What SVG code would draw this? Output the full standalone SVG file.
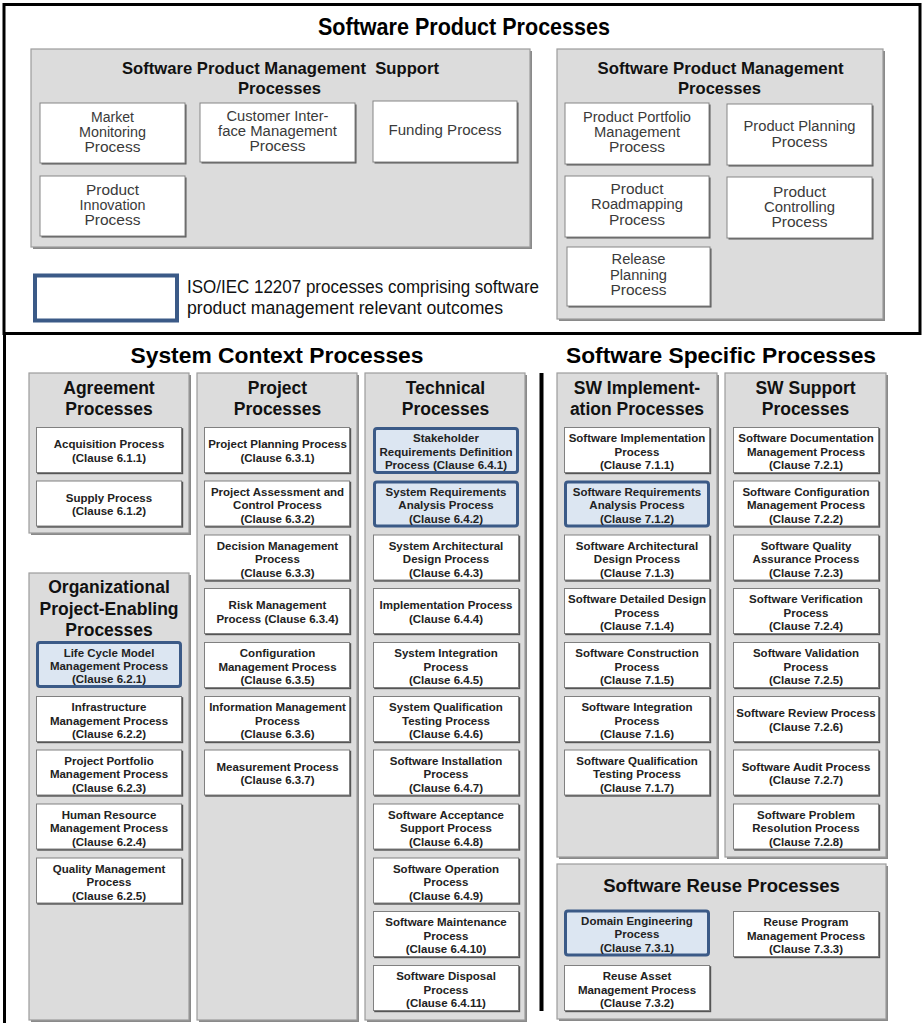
<svg xmlns="http://www.w3.org/2000/svg" xmlns:xlink="http://www.w3.org/1999/xlink" width="924" height="1023" viewBox="0 0 924 1023">
<style>
.t{font-family:"Liberation Sans",Arial,Helvetica,sans-serif;font-weight:bold;font-size:11.5px;fill:#222;text-anchor:middle}
.h{font-family:"Liberation Sans",Arial,Helvetica,sans-serif;font-weight:bold;font-size:17.5px;fill:#111;text-anchor:middle}
.H{font-family:"Liberation Sans",Arial,Helvetica,sans-serif;font-weight:bold;font-size:22.5px;fill:#000;text-anchor:middle}
.n{font-family:"Liberation Sans Narrow","Liberation Sans",Arial,sans-serif;font-size:14px;fill:#3a3a3a;text-anchor:middle}
.nh{font-family:"Liberation Sans Narrow","Liberation Sans",Arial,sans-serif;font-weight:bold;font-size:17px;fill:#111;text-anchor:middle}
.nt{font-family:"Liberation Sans Narrow","Liberation Sans",Arial,sans-serif;font-weight:bold;font-size:24px;fill:#000;text-anchor:middle}
.lg{font-family:"Liberation Sans Narrow","Liberation Sans",Arial,sans-serif;font-size:17.5px;fill:#111}
.ct{fill:#dcdcdc;stroke:#9c9c9c;stroke-width:1.2}
.cs{fill:#8a8a8a}
.wb{fill:#fff;stroke:#858585;stroke-width:1}
.ws{fill:#555}
</style>
<defs>
<g id="wb"><rect x="1.2" y="1.2" width="146" height="46" fill="#555"/><rect x="0.5" y="0.5" width="145" height="45" fill="#fff" stroke="#808080"/></g>
<g id="bb"><rect x="1.5" y="1.5" width="143" height="44" rx="2.5" fill="#dce6f2" stroke="#3b5a87" stroke-width="3"/></g>
</defs>

<!-- top section -->
<g id="software-product-processes">
<rect x="4" y="4.5" width="916" height="329" fill="#fff" stroke="#000" stroke-width="3"/>
<text class="nt" x="464" y="35" textLength="292" lengthAdjust="spacingAndGlyphs">Software Product Processes</text>
</g>

<g id="spm-support">
<rect class="cs" x="33" y="51" width="499" height="198"/>
<rect class="ct" x="31" y="49" width="499" height="198"/>
<text class="nh" x="280.5" y="74" textLength="317" lengthAdjust="spacingAndGlyphs" xml:space="preserve">Software Product Management  Support</text>
<text class="nh" x="279.5" y="94" textLength="83" lengthAdjust="spacingAndGlyphs">Processes</text>
</g>
<g id="n-market">
<rect class="ws" x="41.5" y="104.5" width="145" height="60"/><rect class="wb" x="40" y="103" width="145" height="60"/>
<text class="n" x="112.5" y="122" textLength="43" lengthAdjust="spacingAndGlyphs">Market</text>
<text class="n" x="112.5" y="137" textLength="67" lengthAdjust="spacingAndGlyphs">Monitoring</text>
<text class="n" x="112.5" y="152" textLength="56" lengthAdjust="spacingAndGlyphs">Process</text>
</g>
<g id="n-customer">
<rect class="ws" x="201.5" y="104.5" width="155" height="59"/><rect class="wb" x="200" y="103" width="155" height="59"/>
<text class="n" x="277.5" y="121" textLength="102" lengthAdjust="spacingAndGlyphs">Customer Inter-</text>
<text class="n" x="277.5" y="136" textLength="119" lengthAdjust="spacingAndGlyphs">face Management</text>
<text class="n" x="277.5" y="151" textLength="56" lengthAdjust="spacingAndGlyphs">Process</text>
</g>
<g id="n-funding">
<rect class="ws" x="374.5" y="102.5" width="144" height="61"/><rect class="wb" x="373" y="101" width="144" height="61"/>
<text class="n" x="445" y="135" textLength="113" lengthAdjust="spacingAndGlyphs">Funding Process</text>
</g>
<g id="n-innovation">
<rect class="ws" x="41.5" y="177.5" width="145" height="60"/><rect class="wb" x="40" y="176" width="145" height="60"/>
<text class="n" x="112.5" y="195" textLength="53" lengthAdjust="spacingAndGlyphs">Product</text>
<text class="n" x="112.5" y="210" textLength="66" lengthAdjust="spacingAndGlyphs">Innovation</text>
<text class="n" x="112.5" y="224.5" textLength="56" lengthAdjust="spacingAndGlyphs">Process</text>
</g>

<g id="spm">
<rect class="cs" x="559" y="51" width="326" height="270"/>
<rect class="ct" x="557" y="49" width="326" height="270"/>
<text class="nh" x="720.5" y="74" textLength="246" lengthAdjust="spacingAndGlyphs">Software Product Management</text>
<text class="nh" x="719.5" y="94" textLength="83" lengthAdjust="spacingAndGlyphs">Processes</text>
</g>
<g id="n-portfolio">
<rect class="ws" x="566.5" y="104.5" width="144" height="61"/><rect class="wb" x="565" y="103" width="144" height="61"/>
<text class="n" x="637" y="122" textLength="108" lengthAdjust="spacingAndGlyphs">Product Portfolio</text>
<text class="n" x="637" y="137" textLength="86" lengthAdjust="spacingAndGlyphs">Management</text>
<text class="n" x="637" y="152" textLength="56" lengthAdjust="spacingAndGlyphs">Process</text>
</g>
<g id="n-planning">
<rect class="ws" x="728.5" y="105.5" width="145" height="61"/><rect class="wb" x="727" y="104" width="145" height="61"/>
<text class="n" x="799.5" y="131" textLength="112" lengthAdjust="spacingAndGlyphs">Product Planning</text>
<text class="n" x="799.5" y="147" textLength="56" lengthAdjust="spacingAndGlyphs">Process</text>
</g>
<g id="n-roadmapping">
<rect class="ws" x="566.5" y="177.5" width="144" height="61"/><rect class="wb" x="565" y="176" width="144" height="61"/>
<text class="n" x="637" y="194" textLength="53" lengthAdjust="spacingAndGlyphs">Product</text>
<text class="n" x="637" y="209" textLength="92" lengthAdjust="spacingAndGlyphs">Roadmapping</text>
<text class="n" x="637" y="225" textLength="56" lengthAdjust="spacingAndGlyphs">Process</text>
</g>
<g id="n-controlling">
<rect class="ws" x="728.5" y="178.5" width="145" height="61"/><rect class="wb" x="727" y="177" width="145" height="61"/>
<text class="n" x="799.5" y="197" textLength="53" lengthAdjust="spacingAndGlyphs">Product</text>
<text class="n" x="799.5" y="212" textLength="71" lengthAdjust="spacingAndGlyphs">Controlling</text>
<text class="n" x="799.5" y="227" textLength="56" lengthAdjust="spacingAndGlyphs">Process</text>
</g>
<g id="n-release">
<rect class="ws" x="568.5" y="248.5" width="143" height="59"/><rect class="wb" x="567" y="247" width="143" height="59"/>
<text class="n" x="638.5" y="264" textLength="54" lengthAdjust="spacingAndGlyphs">Release</text>
<text class="n" x="638.5" y="279.5" textLength="57" lengthAdjust="spacingAndGlyphs">Planning</text>
<text class="n" x="638.5" y="294.5" textLength="56" lengthAdjust="spacingAndGlyphs">Process</text>
</g>

<g id="legend">
<rect x="35" y="275.5" width="142" height="45" fill="#fff" stroke="#3b5a87" stroke-width="4"/>
<text class="lg" x="187" y="293" textLength="352" lengthAdjust="spacingAndGlyphs">ISO/IEC 12207 processes comprising software</text>
<text class="lg" x="187" y="314" textLength="316" lengthAdjust="spacingAndGlyphs">product management relevant outcomes</text>
</g>

<!-- bottom section -->
<g id="connectors">
<line x1="4.5" y1="333" x2="4.5" y2="1023" stroke="#000" stroke-width="3"/>
<line x1="541.5" y1="373" x2="541.5" y2="1011" stroke="#000" stroke-width="4"/>
</g>

<g id="titles">
<text class="H" x="277" y="363" textLength="293" lengthAdjust="spacingAndGlyphs">System Context Processes</text>
<text class="H" x="721" y="363" textLength="310" lengthAdjust="spacingAndGlyphs">Software Specific Processes</text>
</g>

<g id="agreement">
<rect class="cs" x="31" y="375" width="160" height="160"/>
<rect class="ct" x="29" y="373" width="160" height="160"/>
<text class="h" x="109" y="393.5">Agreement</text>
<text class="h" x="109" y="414.5">Processes</text>
</g>
<g id="organizational">
<rect class="cs" x="31" y="575" width="160" height="447"/>
<rect class="ct" x="29" y="573" width="160" height="447"/>
<text class="h" x="109" y="593">Organizational</text>
<text class="h" x="109" y="614.5">Project-Enabling</text>
<text class="h" x="109" y="636">Processes</text>
</g>
<g id="project">
<rect class="cs" x="199" y="375" width="160" height="647"/>
<rect class="ct" x="197" y="373" width="160" height="647"/>
<text class="h" x="277.5" y="393.5">Project</text>
<text class="h" x="277.5" y="414.5">Processes</text>
</g>
<g id="technical">
<rect class="cs" x="367" y="375" width="160" height="647"/>
<rect class="ct" x="365" y="373" width="160" height="647"/>
<text class="h" x="445.5" y="393.5">Technical</text>
<text class="h" x="445.5" y="414.5">Processes</text>
</g>
<g id="sw-implementation">
<rect class="cs" x="559" y="375" width="160" height="484"/>
<rect class="ct" x="557" y="373" width="160" height="484"/>
<text class="h" x="637" y="393.5">SW Implement-</text>
<text class="h" x="637" y="414.5">ation Processes</text>
</g>
<g id="sw-support">
<rect class="cs" x="727" y="375" width="161" height="484"/>
<rect class="ct" x="725" y="373" width="161" height="484"/>
<text class="h" x="805.5" y="393.5">SW Support</text>
<text class="h" x="805.5" y="414.5">Processes</text>
</g>
<g id="sw-reuse">
<rect class="cs" x="559" y="866" width="329" height="155"/>
<rect class="ct" x="557" y="864" width="329" height="155"/>
<text class="h" x="721.5" y="892" style="font-size:18.5px">Software Reuse Processes</text>
</g>

<!-- Agreement -->
<g id="n-6-1-1" transform="translate(36,427)"><use href="#wb"/><text class="t"><tspan x="73" y="21">Acquisition Process</tspan><tspan x="73" y="34.5">(Clause 6.1.1)</tspan></text></g>
<g id="n-6-1-2" transform="translate(36,480.5)"><use href="#wb"/><text class="t"><tspan x="73" y="21">Supply Process</tspan><tspan x="73" y="34.5">(Clause 6.1.2)</tspan></text></g>

<!-- Organizational -->
<g id="n-6-2-1" transform="translate(36,641)"><use href="#bb"/><text class="t"><tspan x="73" y="15.5">Life Cycle Model</tspan><tspan x="73" y="28.5">Management Process</tspan><tspan x="73" y="42">(Clause 6.2.1)</tspan></text></g>
<g id="n-6-2-2" transform="translate(36,696)"><use href="#wb"/><text class="t"><tspan x="73" y="15">Infrastructure</tspan><tspan x="73" y="28.5">Management Process</tspan><tspan x="73" y="42">(Clause 6.2.2)</tspan></text></g>
<g id="n-6-2-3" transform="translate(36,749.5)"><use href="#wb"/><text class="t"><tspan x="73" y="15">Project Portfolio</tspan><tspan x="73" y="28.5">Management Process</tspan><tspan x="73" y="42">(Clause 6.2.3)</tspan></text></g>
<g id="n-6-2-4" transform="translate(36,803.5)"><use href="#wb"/><text class="t"><tspan x="73" y="15">Human Resource</tspan><tspan x="73" y="28.5">Management Process</tspan><tspan x="73" y="42">(Clause 6.2.4)</tspan></text></g>
<g id="n-6-2-5" transform="translate(36,857.5)"><use href="#wb"/><text class="t"><tspan x="73" y="15">Quality Management</tspan><tspan x="73" y="28.5">Process</tspan><tspan x="73" y="42">(Clause 6.2.5)</tspan></text></g>

<!-- Project -->
<g id="n-6-3-1" transform="translate(204,427)"><use href="#wb"/><text class="t"><tspan x="73.5" y="21">Project Planning Process</tspan><tspan x="73.5" y="34.5">(Clause 6.3.1)</tspan></text></g>
<g id="n-6-3-2" transform="translate(204,480.5)"><use href="#wb"/><text class="t"><tspan x="73.5" y="15">Project Assessment and</tspan><tspan x="73.5" y="28.5">Control Process</tspan><tspan x="73.5" y="42">(Clause 6.3.2)</tspan></text></g>
<g id="n-6-3-3" transform="translate(204,534.5)"><use href="#wb"/><text class="t"><tspan x="73.5" y="15">Decision Management</tspan><tspan x="73.5" y="28.5">Process</tspan><tspan x="73.5" y="42">(Clause 6.3.3)</tspan></text></g>
<g id="n-6-3-4" transform="translate(204,588)"><use href="#wb"/><text class="t"><tspan x="73.5" y="21">Risk Management</tspan><tspan x="73.5" y="34.5">Process (Clause 6.3.4)</tspan></text></g>
<g id="n-6-3-5" transform="translate(204,642)"><use href="#wb"/><text class="t"><tspan x="73.5" y="15">Configuration</tspan><tspan x="73.5" y="28.5">Management Process</tspan><tspan x="73.5" y="42">(Clause 6.3.5)</tspan></text></g>
<g id="n-6-3-6" transform="translate(204,696)"><use href="#wb"/><text class="t"><tspan x="73.5" y="15">Information Management</tspan><tspan x="73.5" y="28.5">Process</tspan><tspan x="73.5" y="42">(Clause 6.3.6)</tspan></text></g>
<g id="n-6-3-7" transform="translate(204,749.5)"><use href="#wb"/><text class="t"><tspan x="73.5" y="21">Measurement Process</tspan><tspan x="73.5" y="34.5">(Clause 6.3.7)</tspan></text></g>

<!-- Technical -->
<g id="n-6-4-1" transform="translate(373,427)"><use href="#bb"/><text class="t"><tspan x="73" y="15">Stakeholder</tspan><tspan x="73" y="28.5">Requirements Definition</tspan><tspan x="73" y="42">Process (Clause 6.4.1)</tspan></text></g>
<g id="n-6-4-2" transform="translate(373,480.5)"><use href="#bb"/><text class="t"><tspan x="73" y="15">System Requirements</tspan><tspan x="73" y="28.5">Analysis Process</tspan><tspan x="73" y="42">(Clause 6.4.2)</tspan></text></g>
<g id="n-6-4-3" transform="translate(373,534.5)"><use href="#wb"/><text class="t"><tspan x="73" y="15">System Architectural</tspan><tspan x="73" y="28.5">Design Process</tspan><tspan x="73" y="42">(Clause 6.4.3)</tspan></text></g>
<g id="n-6-4-4" transform="translate(373,588)"><use href="#wb"/><text class="t"><tspan x="73" y="21">Implementation Process</tspan><tspan x="73" y="34.5">(Clause 6.4.4)</tspan></text></g>
<g id="n-6-4-5" transform="translate(373,642)"><use href="#wb"/><text class="t"><tspan x="73" y="15">System Integration</tspan><tspan x="73" y="28.5">Process</tspan><tspan x="73" y="42">(Clause 6.4.5)</tspan></text></g>
<g id="n-6-4-6" transform="translate(373,696)"><use href="#wb"/><text class="t"><tspan x="73" y="15">System Qualification</tspan><tspan x="73" y="28.5">Testing Process</tspan><tspan x="73" y="42">(Clause 6.4.6)</tspan></text></g>
<g id="n-6-4-7" transform="translate(373,749.5)"><use href="#wb"/><text class="t"><tspan x="73" y="15">Software Installation</tspan><tspan x="73" y="28.5">Process</tspan><tspan x="73" y="42">(Clause 6.4.7)</tspan></text></g>
<g id="n-6-4-8" transform="translate(373,803.5)"><use href="#wb"/><text class="t"><tspan x="73" y="15">Software Acceptance</tspan><tspan x="73" y="28.5">Support Process</tspan><tspan x="73" y="42">(Clause 6.4.8)</tspan></text></g>
<g id="n-6-4-9" transform="translate(373,857.5)"><use href="#wb"/><text class="t"><tspan x="73" y="15">Software Operation</tspan><tspan x="73" y="28.5">Process</tspan><tspan x="73" y="42">(Clause 6.4.9)</tspan></text></g>
<g id="n-6-4-10" transform="translate(373,911)"><use href="#wb"/><text class="t"><tspan x="73" y="15">Software Maintenance</tspan><tspan x="73" y="28.5">Process</tspan><tspan x="73" y="42">(Clause 6.4.10)</tspan></text></g>
<g id="n-6-4-11" transform="translate(373,965)"><use href="#wb"/><text class="t"><tspan x="73" y="15">Software Disposal</tspan><tspan x="73" y="28.5">Process</tspan><tspan x="73" y="42">(Clause 6.4.11)</tspan></text></g>

<!-- SW Implementation -->
<g id="n-7-1-1" transform="translate(564,427)"><use href="#wb"/><text class="t"><tspan x="73" y="15">Software Implementation</tspan><tspan x="73" y="28.5">Process</tspan><tspan x="73" y="42">(Clause 7.1.1)</tspan></text></g>
<g id="n-7-1-2" transform="translate(564,480.5)"><use href="#bb"/><text class="t"><tspan x="73" y="15">Software Requirements</tspan><tspan x="73" y="28.5">Analysis Process</tspan><tspan x="73" y="42">(Clause 7.1.2)</tspan></text></g>
<g id="n-7-1-3" transform="translate(564,534.5)"><use href="#wb"/><text class="t"><tspan x="73" y="15">Software Architectural</tspan><tspan x="73" y="28.5">Design Process</tspan><tspan x="73" y="42">(Clause 7.1.3)</tspan></text></g>
<g id="n-7-1-4" transform="translate(564,588)"><use href="#wb"/><text class="t"><tspan x="73" y="15">Software Detailed Design</tspan><tspan x="73" y="28.5">Process</tspan><tspan x="73" y="42">(Clause 7.1.4)</tspan></text></g>
<g id="n-7-1-5" transform="translate(564,642)"><use href="#wb"/><text class="t"><tspan x="73" y="15">Software Construction</tspan><tspan x="73" y="28.5">Process</tspan><tspan x="73" y="42">(Clause 7.1.5)</tspan></text></g>
<g id="n-7-1-6" transform="translate(564,696)"><use href="#wb"/><text class="t"><tspan x="73" y="15">Software Integration</tspan><tspan x="73" y="28.5">Process</tspan><tspan x="73" y="42">(Clause 7.1.6)</tspan></text></g>
<g id="n-7-1-7" transform="translate(564,749.5)"><use href="#wb"/><text class="t"><tspan x="73" y="15">Software Qualification</tspan><tspan x="73" y="28.5">Testing Process</tspan><tspan x="73" y="42">(Clause 7.1.7)</tspan></text></g>

<!-- SW Support -->
<g id="n-7-2-1" transform="translate(733,427)"><use href="#wb"/><text class="t"><tspan x="73" y="15">Software Documentation</tspan><tspan x="73" y="28.5">Management Process</tspan><tspan x="73" y="42">(Clause 7.2.1)</tspan></text></g>
<g id="n-7-2-2" transform="translate(733,480.5)"><use href="#wb"/><text class="t"><tspan x="73" y="15">Software Configuration</tspan><tspan x="73" y="28.5">Management Process</tspan><tspan x="73" y="42">(Clause 7.2.2)</tspan></text></g>
<g id="n-7-2-3" transform="translate(733,534.5)"><use href="#wb"/><text class="t"><tspan x="73" y="15">Software Quality</tspan><tspan x="73" y="28.5">Assurance Process</tspan><tspan x="73" y="42">(Clause 7.2.3)</tspan></text></g>
<g id="n-7-2-4" transform="translate(733,588)"><use href="#wb"/><text class="t"><tspan x="73" y="15">Software Verification</tspan><tspan x="73" y="28.5">Process</tspan><tspan x="73" y="42">(Clause 7.2.4)</tspan></text></g>
<g id="n-7-2-5" transform="translate(733,642)"><use href="#wb"/><text class="t"><tspan x="73" y="15">Software Validation</tspan><tspan x="73" y="28.5">Process</tspan><tspan x="73" y="42">(Clause 7.2.5)</tspan></text></g>
<g id="n-7-2-6" transform="translate(733,696)"><use href="#wb"/><text class="t"><tspan x="73" y="21">Software Review Process</tspan><tspan x="73" y="34.5">(Clause 7.2.6)</tspan></text></g>
<g id="n-7-2-7" transform="translate(733,749.5)"><use href="#wb"/><text class="t"><tspan x="73" y="21">Software Audit Process</tspan><tspan x="73" y="34.5">(Clause 7.2.7)</tspan></text></g>
<g id="n-7-2-8" transform="translate(733,803.5)"><use href="#wb"/><text class="t"><tspan x="73" y="15">Software Problem</tspan><tspan x="73" y="28.5">Resolution Process</tspan><tspan x="73" y="42">(Clause 7.2.8)</tspan></text></g>

<!-- Reuse -->
<g id="n-7-3-1" transform="translate(564,909.5)"><use href="#bb"/><text class="t"><tspan x="73" y="15.5">Domain Engineering</tspan><tspan x="73" y="28.5">Process</tspan><tspan x="73" y="42">(Clause 7.3.1)</tspan></text></g>
<g id="n-7-3-3" transform="translate(733,911)"><use href="#wb"/><text class="t"><tspan x="73" y="15">Reuse Program</tspan><tspan x="73" y="28.5">Management Process</tspan><tspan x="73" y="42">(Clause 7.3.3)</tspan></text></g>
<g id="n-7-3-2" transform="translate(564,965)"><use href="#wb"/><text class="t"><tspan x="73" y="15">Reuse Asset</tspan><tspan x="73" y="28.5">Management Process</tspan><tspan x="73" y="42">(Clause 7.3.2)</tspan></text></g>
</svg>
